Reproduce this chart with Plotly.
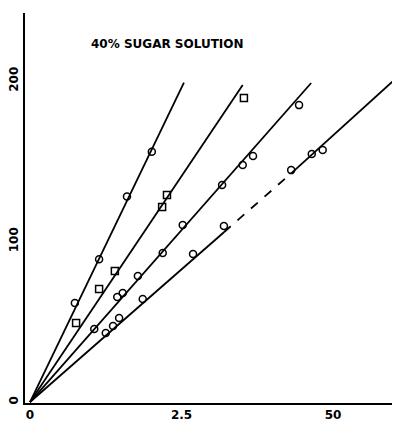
import plotly.graph_objects as go

# ---- data ----
title_text = "40% SUGAR SOLUTION"

x_tick_vals = [0, 2.5, 5.0]
x_tick_text = ["0", "2.5", "50"]
y_tick_vals = [0, 100, 200]
y_tick_text = ["0", "100", "200"]

# measured points
s1_x = [0.74, 1.14, 1.60, 2.01]
s1_y = [61.7, 89.0, 128.0, 156.0]

s2_x = [0.76, 1.14, 1.40, 2.18, 2.26, 3.53]
s2_y = [49.2, 70.4, 81.6, 121.5, 129.0, 189.4]

s3_x = [1.06, 1.44, 1.53, 1.78, 2.19, 2.52, 3.17, 3.51, 3.68, 4.44]
s3_y = [45.5, 65.4, 67.9, 78.5, 92.8, 110.3, 135.2, 147.7, 153.3, 185.0]

s4_x = [1.25, 1.37, 1.47, 1.86, 2.69, 3.20, 4.31, 4.65, 4.83]
s4_y = [43.0, 47.4, 52.3, 64.2, 92.2, 109.7, 144.5, 154.5, 157.0]

# fitted straight lines through the origin (start, end)
fit1_x = [0, 2.54]
fit1_y = [0, 199.0]
fit2_x = [0, 3.51]
fit2_y = [0, 197.5]
fit3_x = [0, 4.64]
fit3_y = [0, 198.8]
# line 4 drawn in three pieces: solid, dashed, solid
fit4a_x = [0, 3.20]
fit4a_y = [0, 105.8]
fit4b_x = [3.20, 4.31]
fit4b_y = [105.8, 142.5]
fit4c_x = [4.31, 6.01]
fit4c_y = [142.5, 200.6]

fig = go.Figure()

for fx, fy, dash in [(fit1_x, fit1_y, "solid"), (fit2_x, fit2_y, "solid"),
                     (fit3_x, fit3_y, "solid"), (fit4a_x, fit4a_y, "solid"),
                     (fit4b_x, fit4b_y, "dash"), (fit4c_x, fit4c_y, "solid")]:
    fig.add_trace(go.Scatter(x=fx, y=fy, mode="lines",
                             line=dict(color="black", width=1.8, dash=dash),
                             showlegend=False, hoverinfo="skip"))

marker_style = dict(color="black", size=7, line=dict(color="black", width=1.5))
for sx, sy, sym in [(s1_x, s1_y, "circle-open"), (s2_x, s2_y, "square-open"),
                    (s3_x, s3_y, "circle-open"), (s4_x, s4_y, "circle-open")]:
    fig.add_trace(go.Scatter(x=sx, y=sy, mode="markers",
                             marker=dict(symbol=sym, **marker_style),
                             showlegend=False))

fig.add_annotation(text="<b>" + title_text + "</b>", xref="paper", yref="paper",
                   x=0.381, y=0.9205, xanchor="center", yanchor="middle",
                   showarrow=False,
                   font=dict(family="DejaVu Sans", size=12, color="black"))

# page body has an 8px default margin: size the figure to fit the window
fig.update_layout(
    width=392, height=415,
    margin=dict(l=17, r=0, t=5, b=20),
    paper_bgcolor="white", plot_bgcolor="white",
    font=dict(family="DejaVu Sans", size=12, color="black"),
)
fig.update_xaxes(range=[-0.083, 6.106], showgrid=False, zeroline=False,
                 showline=True, linecolor="black", linewidth=2,
                 tickvals=x_tick_vals, ticktext=["<b>" + t + "</b>" for t in x_tick_text],
                 ticks="", ticklen=0)
fig.update_yaxes(range=[-0.6, 242.4], showgrid=False, zeroline=False,
                 showline=True, linecolor="black", linewidth=2,
                 tickvals=y_tick_vals, ticktext=["<b>" + t + "</b>" for t in y_tick_text],
                 tickangle=-90, ticks="", ticklen=0)

fig.write_html("out.html")
